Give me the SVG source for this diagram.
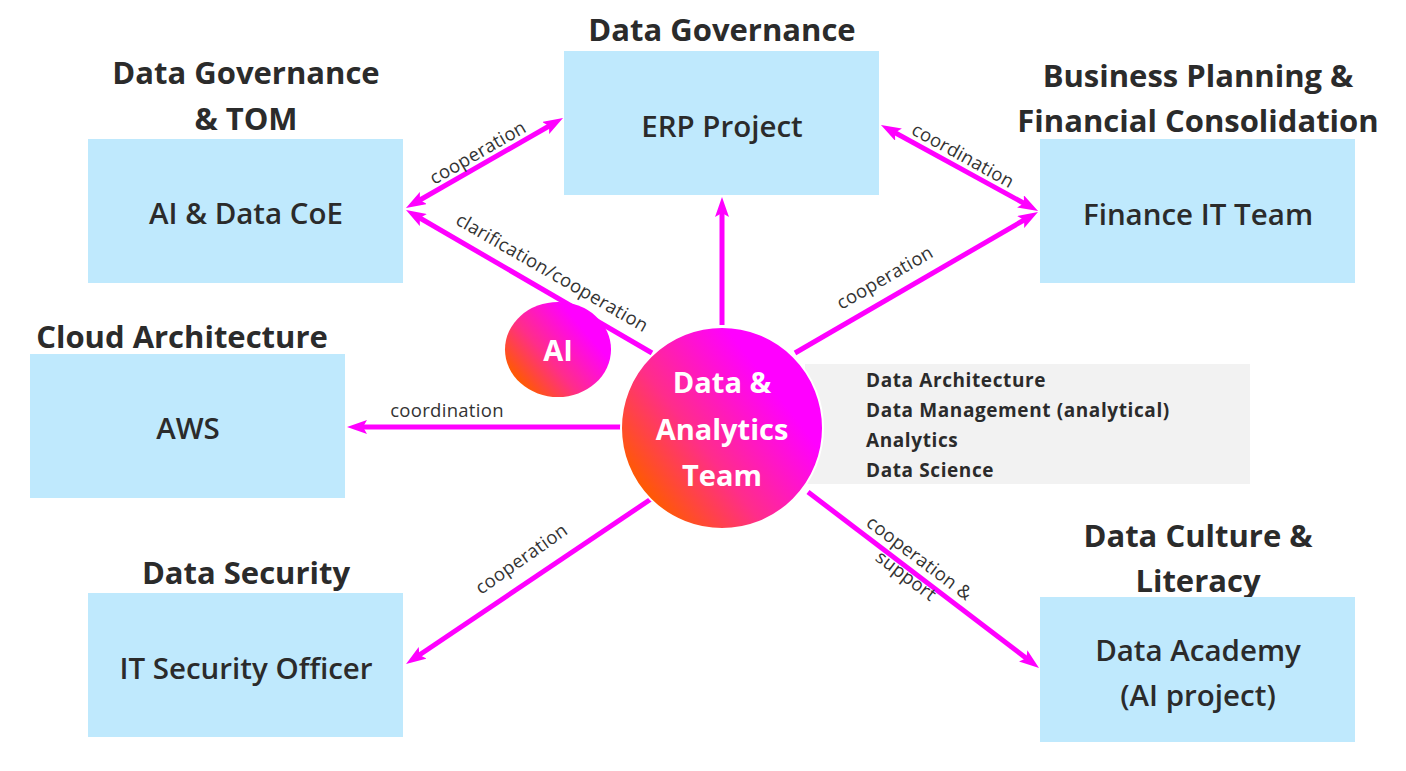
<svg xmlns="http://www.w3.org/2000/svg" width="1406" height="771" viewBox="0 0 1406 771">
<defs>
<linearGradient id="grad" x1="0.1" y1="0.8" x2="0.75" y2="0.3">
<stop offset="0" stop-color="#ff5a00"/>
<stop offset="0.45" stop-color="#ff2d8a"/>
<stop offset="1" stop-color="#ff00ff"/>
</linearGradient>
<marker id="arr" viewBox="0 0 20 14" refX="8" refY="7" markerWidth="20" markerHeight="14" markerUnits="userSpaceOnUse" orient="auto-start-reverse">
<path d="M0,0 L20,7 L0,14 L4,7 z" fill="#ff00ff"/>
</marker>
<style>
.box{fill:#bfe9fd}
.title{font-family:"Open Sans","Liberation Sans",sans-serif;font-weight:700;font-size:31px;fill:#2b2b2b;text-anchor:middle}
.lbl{font-family:"Open Sans","Liberation Sans",sans-serif;font-weight:600;font-size:29.5px;fill:#2b2b2b;text-anchor:middle}
.edge{stroke:#ff00ff;stroke-width:5;fill:none}
.elbl{font-family:"Open Sans","Liberation Sans",sans-serif;font-size:18.5px;letter-spacing:0.3px;fill:#333;text-anchor:middle}
.ctext{font-family:"Open Sans","Liberation Sans",sans-serif;font-weight:700;font-size:29px;fill:#fff;text-anchor:middle}
.list{font-family:"Open Sans","Liberation Sans",sans-serif;font-weight:700;font-size:19px;letter-spacing:0.6px;fill:#2b2b2b}
</style>
</defs>
<rect width="1406" height="771" fill="#fff"/>
<g id="connectors">
<line class="edge" x1="722" y1="325" x2="722" y2="209" marker-end="url(#arr)"/>
<line class="edge" x1="652" y1="353" x2="416.4" y2="216" marker-end="url(#arr)"/>
<line class="edge" x1="416.4" y1="202" x2="552.6" y2="124" marker-start="url(#arr)" marker-end="url(#arr)"/>
<line class="edge" x1="891.5" y1="130.8" x2="1027.5" y2="205.2" marker-start="url(#arr)" marker-end="url(#arr)"/>
<line class="edge" x1="795" y1="353" x2="1027.6" y2="218" marker-end="url(#arr)"/>
<line class="edge" x1="621" y1="427" x2="359" y2="427" marker-end="url(#arr)"/>
<line class="edge" x1="651" y1="499" x2="416" y2="657.3" marker-end="url(#arr)"/>
<line class="edge" x1="808" y1="492" x2="1029.5" y2="660.7" marker-end="url(#arr)"/>
<text class="elbl" transform="translate(481,158) rotate(-30)">cooperation</text>
<text class="elbl" transform="translate(549,278) rotate(30)">clarification/cooperation</text>
<text class="elbl" transform="translate(960,161) rotate(29)">coordination</text>
<text class="elbl" transform="translate(888,283) rotate(-30)">cooperation</text>
<text class="elbl" x="447" y="417">coordination</text>
<text class="elbl" transform="translate(525,564) rotate(-35)">cooperation</text>
<g transform="translate(912,568) rotate(37)">
<text class="elbl" x="0" y="-6">cooperation &amp;</text>
<text class="elbl" x="0" y="16">support</text>
</g>
</g>
<g id="node-erp">
<text class="title" x="722" y="41">Data Governance</text>
<rect class="box" x="564" y="51" width="315" height="144"/>
<text class="lbl" x="722" y="137">ERP Project</text>
</g>
<g id="node-coe">
<text class="title" x="246" y="84">Data Governance</text>
<text class="title" x="246" y="130">&amp; TOM</text>
<rect class="box" x="88" y="139" width="315" height="144"/>
<text class="lbl" x="246" y="224">AI &amp; Data CoE</text>
</g>
<g id="node-finance">
<text class="title" x="1198" y="87">Business Planning &amp;</text>
<text class="title" x="1198" y="132">Financial Consolidation</text>
<rect class="box" x="1040" y="139" width="315" height="144"/>
<text class="lbl" x="1198" y="225">Finance IT Team</text>
</g>
<g id="node-aws">
<text class="title" x="182" y="348">Cloud Architecture</text>
<rect class="box" x="30" y="354" width="315" height="144"/>
<text class="lbl" x="188" y="439">AWS</text>
</g>
<g id="node-security">
<text class="title" x="246" y="584">Data Security</text>
<rect class="box" x="88" y="593" width="315" height="144"/>
<text class="lbl" x="246" y="679">IT Security Officer</text>
</g>
<g id="node-academy">
<text class="title" x="1198" y="547">Data Culture &amp;</text>
<text class="title" x="1198" y="592">Literacy</text>
<rect class="box" x="1040" y="597" width="315" height="145"/>
<text class="lbl" x="1198" y="661">Data Academy</text>
<text class="lbl" x="1198" y="706">(AI project)</text>
</g>
<g id="node-competencies">
<rect x="805" y="364" width="445" height="120" fill="#f2f2f2"/>
<text class="list" x="866" y="387">Data Architecture</text>
<text class="list" x="866" y="417">Data Management (analytical)</text>
<text class="list" x="866" y="447">Analytics</text>
<text class="list" x="866" y="477">Data Science</text>
</g>
<g id="node-ai">
<ellipse cx="558" cy="349.5" rx="53" ry="47.5" fill="url(#grad)"/>
<text class="ctext" x="558" y="361">AI</text>
</g>
<g id="node-dat">
<circle cx="722" cy="428" r="101" fill="url(#grad)" stroke="#fff" stroke-width="2"/>
<text class="ctext" x="722" y="393">Data &amp;</text>
<text class="ctext" x="722" y="440">Analytics</text>
<text class="ctext" x="722" y="486">Team</text>
</g>
</svg>
